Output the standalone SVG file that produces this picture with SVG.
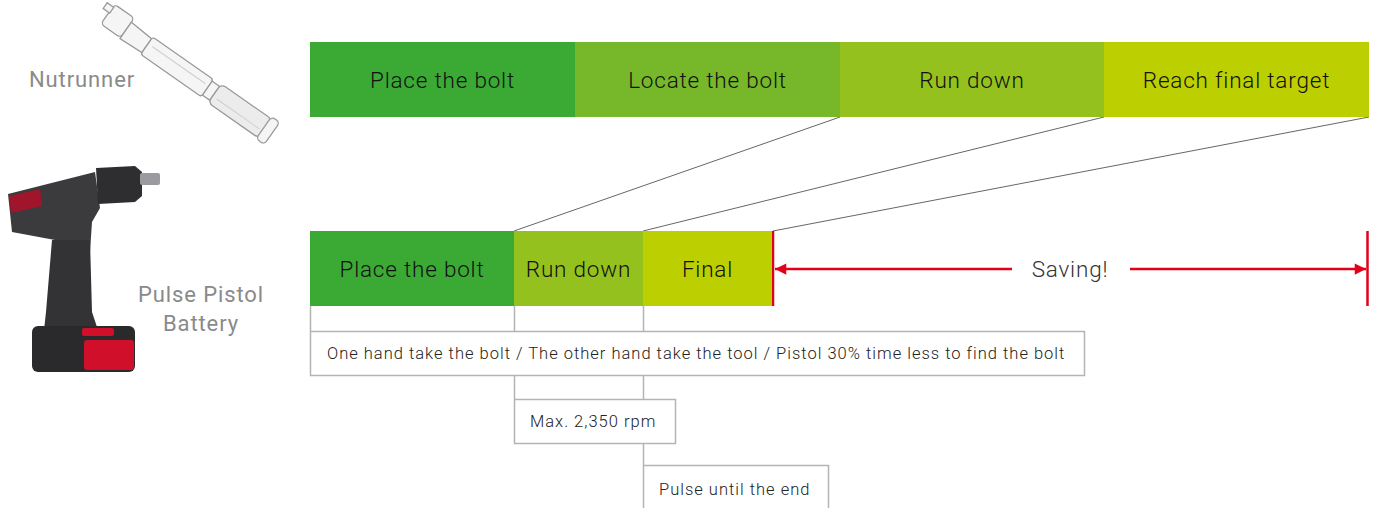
<svg xmlns="http://www.w3.org/2000/svg" width="1373" height="508" viewBox="0 0 1373 508">
<style>
.lbl{font-family:Roboto,"Liberation Sans",sans-serif;font-size:22.5px;font-weight:300;letter-spacing:0.8px;fill:#111;text-anchor:middle}
.tool{font-family:Roboto,"Liberation Sans",sans-serif;font-size:22px;font-weight:400;letter-spacing:0.9px;fill:#8a8a8a;text-anchor:middle}
.note{font-family:Roboto,"Liberation Sans",sans-serif;font-size:16.5px;font-weight:300;letter-spacing:1px;fill:#222}
.box{fill:#fff;stroke:#b4b4b4;stroke-width:1.5}
.vl{stroke:#b4b4b4;stroke-width:1.5;fill:none}
.diag{stroke:#555;stroke-width:0.9;fill:none}
.red{stroke:#E2001A;stroke-width:2.5;fill:none}
.np{fill:#f5f5f5;stroke:#9a9a9a;stroke-width:1.3}
</style>
<defs>
<marker id="ah" viewBox="0 0 10 10" refX="10" refY="5" markerWidth="5.5" markerHeight="4.5" orient="auto-start-reverse" markerUnits="strokeWidth">
<path d="M0,0 L10,5 L0,10 Z" fill="#E2001A"/>
</marker>
</defs>
<rect width="1373" height="508" fill="#fff"/>

<!-- nutrunner picture -->
<g id="nutrunner-image" transform="translate(112,22) rotate(35)">
<rect x="-8" y="-16" width="24" height="24" rx="4" class="np"/>
<rect x="-15" y="-13" width="8" height="7" class="np"/>
<path d="M16,-11 L42,-9 L42,8 L16,9 Z" class="np"/>
<rect x="42" y="-11" width="74" height="21" rx="3" class="np"/>
<rect x="116" y="-9" width="9" height="17" class="np"/>
<rect x="125" y="-12" width="62" height="23" rx="5" fill="#ececec" stroke="#9a9a9a" stroke-width="1.3"/>
<rect x="185" y="-14" width="10" height="27" rx="4" class="np"/>
<line x1="47" y1="-3" x2="112" y2="-3" stroke="#cfcfcf" stroke-width="1"/>
<line x1="130" y1="3" x2="182" y2="3" stroke="#cfcfcf" stroke-width="1"/>
</g>
<g id="nutrunner-label"><text class="tool" x="82" y="87">Nutrunner</text></g>

<!-- pulse pistol picture -->
<g id="pistol-image">
<path d="M8,194 L95,172 L100,208 L92,222 L90,252 L80,258 L72,244 L55,240 L12,232 Z" fill="#3b3b3d"/>
<path d="M96,168 L135,166 L142,172 L142,196 L135,202 L98,204 Z" fill="#2e2e30"/>
<rect x="140" y="173" width="20" height="12" rx="2" fill="#9a9aa0"/>
<path d="M52,240 L90,240 L92,312 L98,330 L44,330 L46,312 Z" fill="#333335"/>
<rect x="32" y="326" width="103" height="46" rx="6" fill="#2a2a2c"/>
<rect x="84" y="340" width="50" height="30" rx="3" fill="#d0102a"/>
<rect x="82" y="328" width="32" height="8" rx="2" fill="#d0102a"/>
<path d="M9,196 L40,189 L42,206 L11,213 Z" fill="#a0142c"/>
</g>
<g id="pistol-label">
<text class="tool" x="201" y="302">Pulse Pistol</text>
<text class="tool" x="201" y="331">Battery</text>
</g>

<!-- connectors -->
<g id="connectors">
<line class="diag" x1="840" y1="117" x2="514" y2="231"/>
<line class="diag" x1="1104" y1="117" x2="643" y2="231"/>
<line class="diag" x1="1369" y1="117" x2="773" y2="231"/>
<path class="vl" d="M310.5,306 V331 M514.5,306 V331 M643.5,306 V331"/>
<path class="vl" d="M514.5,375 V399 M643.5,375 V465"/>
<line class="red" x1="773" y1="231" x2="773" y2="306"/>
<line class="red" x1="1367.5" y1="231" x2="1367.5" y2="306"/>
<line class="red" x1="1012" y1="269" x2="775" y2="269" marker-end="url(#ah)"/>
<line class="red" x1="1130" y1="269" x2="1366" y2="269" marker-end="url(#ah)"/>
</g>

<!-- top bar nodes -->
<g id="n-top-place"><rect x="310" y="42" width="265" height="75" fill="#3BAA35"/><text class="lbl" x="442.5" y="87.5">Place the bolt</text></g>
<g id="n-top-locate"><rect x="575" y="42" width="265" height="75" fill="#76B82A"/><text class="lbl" x="707.5" y="87.5">Locate the bolt</text></g>
<g id="n-top-run"><rect x="840" y="42" width="264" height="75" fill="#95C11F"/><text class="lbl" x="972" y="87.5">Run down</text></g>
<g id="n-top-final"><rect x="1104" y="42" width="265" height="75" fill="#BCCF00"/><text class="lbl" x="1236.5" y="87.5">Reach final target</text></g>

<!-- bottom bar nodes -->
<g id="n-bot-place"><rect x="310" y="231" width="204" height="75" fill="#3BAA35"/><text class="lbl" x="412" y="276.5">Place the bolt</text></g>
<g id="n-bot-run"><rect x="514" y="231" width="129" height="75" fill="#95C11F"/><text class="lbl" x="578.5" y="276.5">Run down</text></g>
<g id="n-bot-final"><rect x="643" y="231" width="129" height="75" fill="#BCCF00"/><text class="lbl" x="707.5" y="276.5">Final</text></g>

<g id="saving-label"><text class="lbl" x="1070" y="277" style="fill:#333">Saving!</text></g>

<!-- note boxes -->
<g id="note-1"><rect class="box" x="310.5" y="331.5" width="774" height="44"/><text class="note" x="327" y="359">One hand take the bolt / The other hand take the tool / Pistol 30% time less to find the bolt</text></g>
<g id="note-2"><rect class="box" x="514.5" y="399.5" width="161" height="44"/><text class="note" x="530" y="427">Max. 2,350 rpm</text></g>
<g id="note-3"><rect class="box" x="643.5" y="465.5" width="185" height="50"/><text class="note" x="659" y="495">Pulse until the end</text></g>
</svg>
